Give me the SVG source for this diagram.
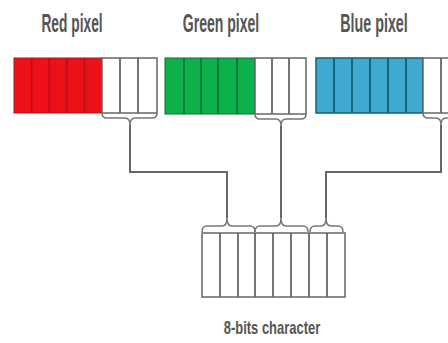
<svg xmlns="http://www.w3.org/2000/svg" width="448" height="343" viewBox="0 0 448 343">
  <style>
    .lbl { font-family: "Liberation Sans", Arial, sans-serif; font-weight: bold; fill: #555; text-anchor: middle; }
    .top { font-size: 26px; }
    .red { fill: #ec1119; stroke: #b0141a; stroke-width: 1; }
    .redc { stroke: #b8101a; stroke-width: 1.5; }
    .grn { fill: #0db14b; stroke: #0a6b33; stroke-width: 1; }
    .grnc { stroke: #086a30; stroke-width: 1.5; }
    .blu { fill: #3fa9d2; stroke: #14606e; stroke-width: 1.5; }
    .bluc { stroke: #14606e; stroke-width: 1.8; }
    .cell { fill: #fff; stroke: #666; stroke-width: 1.5; }
    .div { stroke: #666; stroke-width: 1.8; }
    .brace { fill: none; stroke: #777; stroke-width: 1.5; }
    .conn { fill: none; stroke: #666; stroke-width: 2; }
  </style>

  <!-- Red pixel: 5 colour bits + 3 spare bits -->
  <g id="red-pixel">
    <text class="lbl top" transform="translate(72,32) scale(0.53,1)">Red pixel</text>
    <rect class="red" x="14" y="58" width="88" height="55"/>
    <g class="redc">
      <line x1="31.6" y1="58" x2="31.6" y2="113"/>
      <line x1="49.2" y1="58" x2="49.2" y2="113"/>
      <line x1="66.8" y1="58" x2="66.8" y2="113"/>
      <line x1="84.4" y1="58" x2="84.4" y2="113"/>
    </g>
    <rect class="cell" x="102" y="58" width="55" height="55"/>
    <g class="div">
      <line x1="120" y1="58" x2="120" y2="113"/>
      <line x1="138" y1="58" x2="138" y2="113"/>
    </g>
    <path class="brace" d="M102,113 q0,5 5,5 H125 q5,0 5,7 q0,-7 5,-7 H152 q5,0 5,-5"/>
  </g>

  <!-- Green pixel -->
  <g id="green-pixel">
    <text class="lbl top" transform="translate(221,32) scale(0.54,1)">Green pixel</text>
    <rect class="grn" x="165" y="58" width="90" height="56"/>
    <g class="grnc">
      <line x1="184" y1="58" x2="184" y2="114"/>
      <line x1="201" y1="58" x2="201" y2="114"/>
      <line x1="218" y1="58" x2="218" y2="114"/>
      <line x1="237" y1="58" x2="237" y2="114"/>
    </g>
    <rect class="cell" x="255" y="58" width="51" height="56"/>
    <g class="div">
      <line x1="272" y1="58" x2="272" y2="114"/>
      <line x1="289" y1="58" x2="289" y2="114"/>
    </g>
    <path class="brace" d="M255,114 q0,5 5,5 H276 q5,0 5,7 q0,-7 5,-7 H301 q5,0 5,-5"/>
  </g>

  <!-- Blue pixel -->
  <g id="blue-pixel">
    <text class="lbl top" transform="translate(374,32) scale(0.55,1)">Blue pixel</text>
    <rect class="blu" x="316" y="58" width="107" height="55"/>
    <g class="bluc">
      <line x1="334" y1="58" x2="334" y2="113"/>
      <line x1="352" y1="58" x2="352" y2="113"/>
      <line x1="370" y1="58" x2="370" y2="113"/>
      <line x1="388" y1="58" x2="388" y2="113"/>
      <line x1="406" y1="58" x2="406" y2="113"/>
    </g>
    <rect class="cell" x="423" y="58" width="36" height="55"/>
    <line class="div" x1="441" y1="58" x2="441" y2="113"/>
    <path class="brace" d="M423,113 q0,5 5,5 H436 q5,0 5,7 q0,-7 5,-7 H454 q5,0 5,-5"/>
  </g>

  <!-- Routing of the spare bits into the character -->
  <g id="connectors">
    <path class="conn" d="M130,125 V172 H227 V218"/>
    <path class="conn" d="M281,126 V218"/>
    <path class="conn" d="M441,125 V172 H326 V218"/>
  </g>

  <!-- 8-bit character -->
  <g id="character">
    <path class="brace" d="M202,232 q0,-6 5,-6 H222 q5,0 5,-8 q0,8 5,8 H250 q5,0 5,6"/>
    <path class="brace" d="M255,232 q0,-6 5,-6 H276 q5,0 5,-8 q0,8 5,8 H303 q5,0 5,6"/>
    <path class="brace" d="M310,232 q0,-6 5,-6 H321 q5,0 5,-8 q0,8 5,8 H338 q5,0 5,6"/>
    <rect class="cell" x="202" y="233" width="143" height="64"/>
    <g class="div">
      <line x1="220" y1="233" x2="220" y2="297"/>
      <line x1="238" y1="233" x2="238" y2="297"/>
      <line x1="255" y1="233" x2="255" y2="297"/>
      <line x1="273" y1="233" x2="273" y2="297"/>
      <line x1="291" y1="233" x2="291" y2="297"/>
      <line x1="309" y1="233" x2="309" y2="297"/>
      <line x1="327" y1="233" x2="327" y2="297"/>
    </g>
    <text class="lbl" font-size="18" transform="translate(272,334) scale(0.72,1)">8-bits character</text>
  </g>
</svg>
